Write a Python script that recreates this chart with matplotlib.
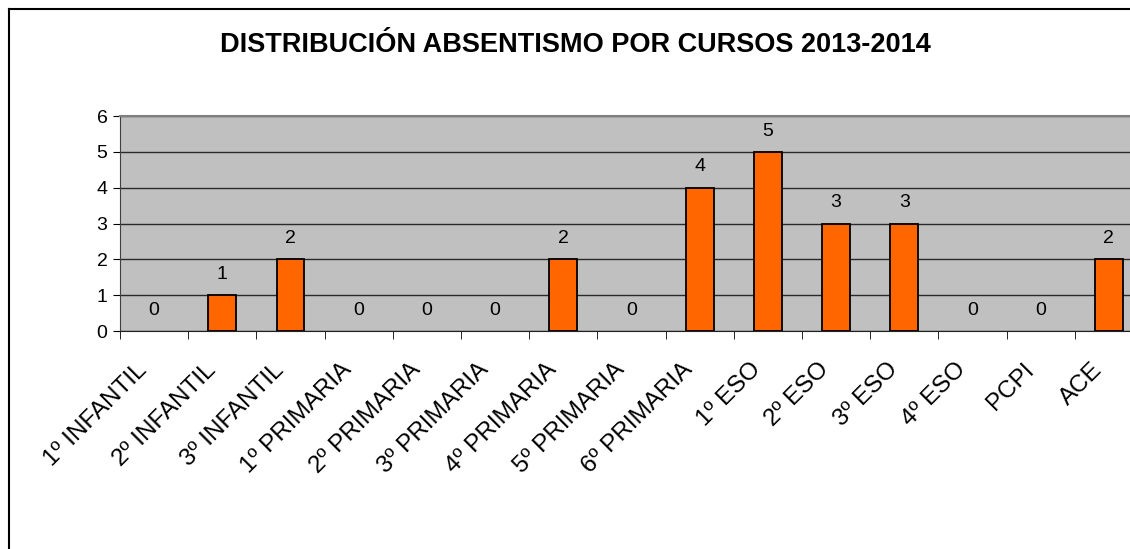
import numpy as np
import matplotlib
matplotlib.use("Agg")
import matplotlib.pyplot as plt
import matplotlib.transforms as mtransforms
from matplotlib.lines import Line2D

plt.rcParams["font.family"] = ["Liberation Sans", "DejaVu Sans"]

titulo = "DISTRIBUCIÓN ABSENTISMO POR CURSOS 2013-2014"
cursos = ["1º INFANTIL", "2º INFANTIL", "3º INFANTIL", "1º PRIMARIA", "2º PRIMARIA",
          "3º PRIMARIA", "4º PRIMARIA", "5º PRIMARIA", "6º PRIMARIA", "1º ESO",
          "2º ESO", "3º ESO", "4º ESO", "PCPI", "ACE"]
valores = [0, 1, 2, 0, 0, 0, 2, 0, 4, 5, 3, 3, 0, 0, 2]

W, H = 1130, 549
fig = plt.figure(figsize=(W / 100, H / 100), dpi=100)

# plot area runs past the right edge of the picture, as in the reference
ax = fig.add_axes([120 / W, 1 - 331 / H, (1143 - 120) / W, (331 - 116) / H])
ax.set_facecolor("#C0C0C0")

x = np.arange(len(cursos))
bordes = [1.3 if v > 0 else 0 for v in valores]
ax.bar(x, valores, width=0.41, color="#FF6600", edgecolor="black", linewidth=bordes, zorder=3)

for xi, v in zip(x, valores):
    ax.annotate(str(v), (xi, v), xytext=(0, 15), textcoords="offset points",
                ha="center", va="center", fontsize=14, color="black")

ax.set_xlim(-0.5, len(cursos) - 0.5)
ax.set_ylim(0, 6)
ax.set_yticks(range(0, 7))
ax.yaxis.grid(True, color="#2a2a2a", linewidth=1.0, zorder=1)
ax.set_axisbelow(True)
ax.tick_params(axis="y", labelsize=14, length=5, direction="out", pad=4)

ax.set_xticks(x)
ax.set_xticklabels(cursos, rotation=45, ha="right", va="top", rotation_mode="anchor", fontsize=17.5)
ax.set_xticks(np.arange(-0.5, len(cursos)), minor=True)
ax.tick_params(axis="x", which="major", length=0, pad=20)
ax.tick_params(axis="x", which="minor", length=6, direction="out")
shift = mtransforms.ScaledTranslation(-18 / 100, 0, fig.dpi_scale_trans)
for lab in ax.get_xticklabels():
    lab.set_transform(lab.get_transform() + shift)

ax.spines["top"].set_color("#808080")
ax.spines["top"].set_linewidth(1.5)
ax.spines["right"].set_visible(False)
ax.spines["left"].set_color("#404040")
ax.spines["bottom"].set_color("#202020")

fig.text(575 / W, 1 - 45 / H, titulo, ha="center", va="center",
         fontsize=19.5, fontweight="bold")

# chart border (cut off at the right and bottom in the reference)
fig.add_artist(Line2D([8.5 / W, 8.5 / W], [1 - 9 / H, 0], color="black", lw=1.5))
fig.add_artist(Line2D([8.5 / W, 1], [1 - 9 / H, 1 - 9 / H], color="black", lw=1.5))

fig.savefig("out.png", dpi=100)
